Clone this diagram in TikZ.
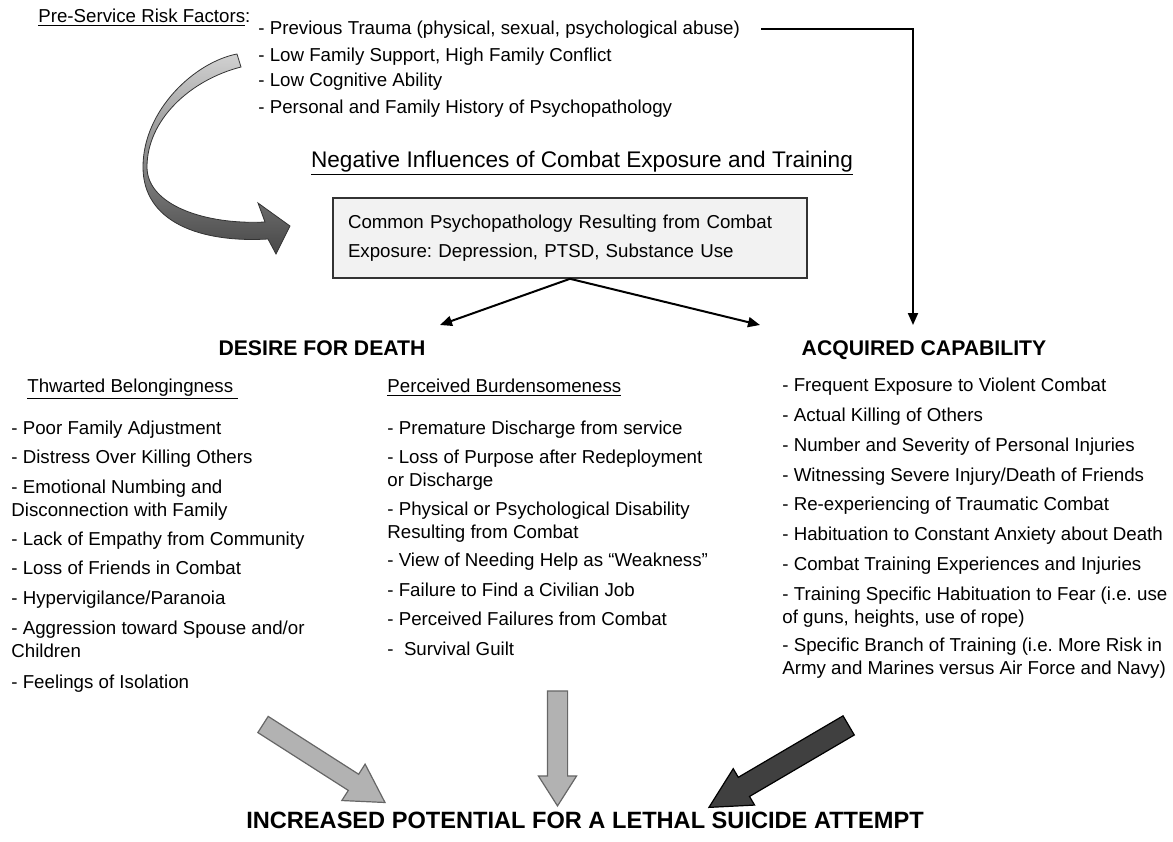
\documentclass[tikz,border=0pt]{standalone}
\usepackage{fontspec}
\setmainfont{Liberation Sans}
\usetikzlibrary{shapes.arrows,arrows.meta}
\frenchspacing

\begin{document}
\begin{tikzpicture}[x=0.5pt,y=-0.5pt,
    txt/.style={anchor=base west, inner sep=0pt, align=left, font={\fontsize{9.35}{11.5}\selectfont}},
    caps/.style={anchor=base, inner sep=0pt, font={\bfseries\fontsize{10.6}{12}\selectfont}},
    conn/.style={line width=1pt, -{Triangle[length=6pt,width=5pt]}},
    blockarrow/.style={single arrow, inner xsep=0pt, line width=0.6pt, single arrow head indent=0pt}]
    \useasboundingbox (0,0) rectangle (1173,841);

    % Pre-service risk factors
    \node[txt] (pre) at (38,22) {\underline{Pre-Service Risk Factors}:};
    \node[txt] (risk1) at (258,34) {- Previous Trauma (physical, sexual, psychological abuse)};
    \node[txt] (risk2) at (258,61) {- Low Family Support, High Family Conflict};
    \node[txt] (risk3) at (258,86) {- Low Cognitive Ability};
    \node[txt] (risk4) at (258,113) {- Personal and Family History of Psychopathology};

    % Curved arrow
    \shadedraw[top color=black!18, bottom color=black!72, draw=black!80, line width=0.4pt]
        (237,54) .. controls (195,62) and (143,110) .. (143,167)
        .. controls (143,222) and (200,243) .. (268,239)
        -- (276,254) -- (290,226) -- (258,203) -- (265,222)
        .. controls (205,225) and (147,205) .. (147,167)
        .. controls (147,120) and (190,80) .. (241,67) -- cycle;

    % Combat exposure
    \node[anchor=base, inner sep=0pt, font={\fontsize{11.3}{13}\selectfont}] (neg) at (582,167)
        {\underline{Negative Influences of Combat Exposure and Training}};
    \node[draw=black!80, fill=black!5, line width=0.8pt, minimum width=237pt, minimum height=40pt,
        text width=222pt, align=left, inner sep=0pt, font={\fontsize{9.35}{14.5}\selectfont}] (box) at (570,238)
        {Common Psychopathology Resulting from Combat\\Exposure: Depression, PTSD, Substance Use};

    % Headings
    \node[caps] (desire) at (322,355) {DESIRE FOR DEATH};
    \node[caps] (acquired) at (924,355) {ACQUIRED CAPABILITY};

    % Connectors
    \coordinate (desiretip) at (440,325);
    \coordinate (acqtip) at (760,325);
    \coordinate (risktip) at (913,325);
    \draw[conn] (box.south) -- (desiretip);
    \draw[conn] (box.south) -- (acqtip);
    \draw[conn] ([xshift=10.5pt]risk1.east) -| (risktip);

    % Thwarted belongingness
    \node[txt] (thwarted) at (27,392) {\underline{Thwarted Belongingness\ }};
    \node[txt] (tb1) at (11,434) {- Poor Family Adjustment};
    \node[txt] (tb2) at (11,463) {- Distress Over Killing Others};
    \node[txt] (tb3) at (11,516) {- Emotional Numbing and\\Disconnection with Family};
    \node[txt] (tb4) at (11,545) {- Lack of Empathy from Community};
    \node[txt] (tb5) at (11,574) {- Loss of Friends in Combat};
    \node[txt] (tb6) at (11,604) {- Hypervigilance/Paranoia};
    \node[txt] (tb7) at (11,657) {- Aggression toward Spouse and/or\\Children};
    \node[txt] (tb8) at (11,688) {- Feelings of Isolation};

    % Perceived burdensomeness
    \node[txt] (perceived) at (387,392) {\underline{Perceived Burdensomeness}};
    \node[txt] (pb1) at (387,434) {- Premature Discharge from service};
    \node[txt] (pb2) at (387,486) {- Loss of Purpose after Redeployment\\or Discharge};
    \node[txt] (pb3) at (387,538) {- Physical or Psychological Disability\\Resulting from Combat};
    \node[txt] (pb4) at (387,566) {- View of Needing Help as “Weakness”};
    \node[txt] (pb5) at (387,596) {- Failure to Find a Civilian Job};
    \node[txt] (pb6) at (387,625) {- Perceived Failures from Combat};
    \node[txt] (pb7) at (387,655) {- \ Survival Guilt};

    % Acquired capability
    \node[txt] (ac1) at (782,391) {- Frequent Exposure to Violent Combat};
    \node[txt] (ac2) at (782,421) {- Actual Killing of Others};
    \node[txt] (ac3) at (782,451) {- Number and Severity of Personal Injuries};
    \node[txt] (ac4) at (782,481) {- Witnessing Severe Injury/Death of Friends};
    \node[txt] (ac5) at (782,510) {- Re-experiencing of Traumatic Combat};
    \node[txt] (ac6) at (782,540) {- Habituation to Constant Anxiety about Death};
    \node[txt] (ac7) at (782,570) {- Combat Training Experiences and Injuries};
    \node[txt] (ac8) at (782,623) {- Training Specific Habituation to Fear (i.e. use\\of guns, heights, use of rope)};
    \node[txt] (ac9) at (782,674) {- Specific Branch of Training (i.e. More Risk in\\Army and Marines versus Air Force and Navy)};

    % Block arrows
    \node[blockarrow, draw=black!60, fill=black!30, minimum height=72.4pt, inner ysep=4.5pt,
        single arrow head extend=6pt, single arrow tip angle=60, rotate=-32.6] (larrow) at (317,759) {};
    \node[blockarrow, draw=black!60, fill=black!30, minimum height=57.5pt, inner ysep=4.75pt,
        single arrow head extend=4.5pt, single arrow tip angle=65, rotate=-90] (marrow) at (557.5,740.5) {};
    \node[blockarrow, draw=black, fill=black!75, minimum height=81pt, inner ysep=5.25pt,
        single arrow head extend=5pt, single arrow tip angle=55, rotate=210.4] (rarrow) at (788,761) {};

    % Outcome
    \node[anchor=base, inner sep=0pt, font={\bfseries\fontsize{11.8}{14}\selectfont}] (outcome) at (585,828)
        {INCREASED POTENTIAL FOR A LETHAL SUICIDE ATTEMPT};
\end{tikzpicture}
\end{document}
